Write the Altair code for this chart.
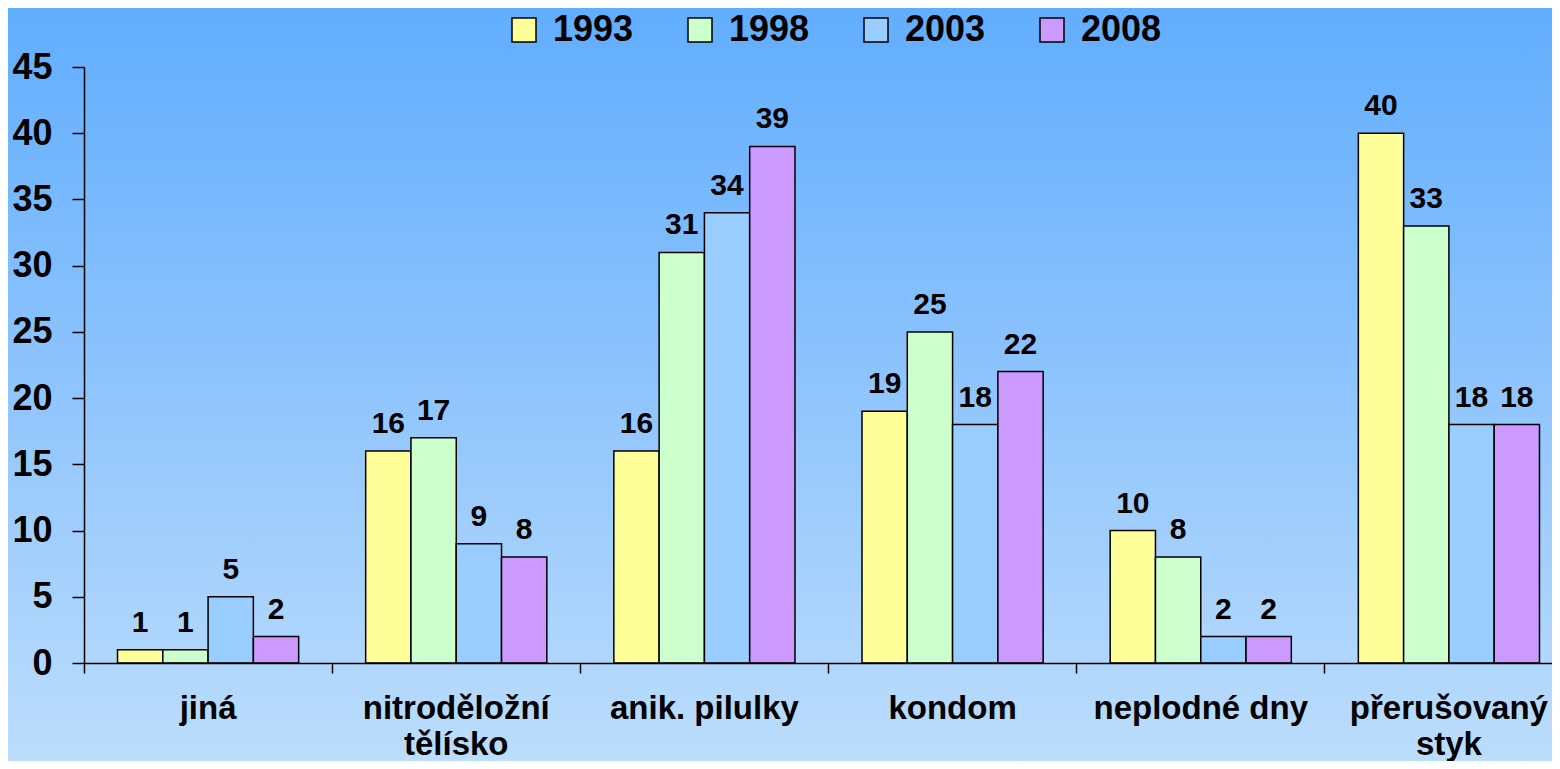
import altair as alt
import pandas as pd

categories = ["jiná", "nitroděložní\ntělísko", "anik. pilulky", "kondom",
              "neplodné dny", "přerušovaný\nstyk"]
years = ["1993", "1998", "2003", "2008"]
values = {
    "1993": [1, 16, 16, 19, 10, 40],
    "1998": [1, 17, 31, 25, 8, 33],
    "2003": [5, 9, 34, 18, 2, 18],
    "2008": [2, 8, 39, 22, 2, 18],
}
colors = ["#ffff99", "#ccffcc", "#99ccff", "#cc99ff"]

rows = []
for y in years:
    for c, v in zip(categories, values[y]):
        rows.append({"cat": c, "year": y, "value": v})
df = pd.DataFrame(rows)

W, H = 1468, 596
PL, PT, PR, PB = 76, 59, 0, 98
FONT = "Liberation Sans"

bg = alt.Chart(alt.Data(values=[{"k": 1}])).mark_rect(
    fill=alt.Gradient(
        gradient="linear",
        stops=[alt.GradientStop(color="#61adfe", offset=0),
               alt.GradientStop(color="#8fc4fd", offset=0.5),
               alt.GradientStop(color="#bcddfc", offset=1)],
        x1=0, x2=0, y1=0, y2=1,
    ),
    strokeWidth=0,
).encode(
    x=alt.value(-PL), x2=alt.value(W + 30),
    y=alt.value(-PT), y2=alt.value(H + PB),
)

xenc = alt.X("cat:N", sort=categories, title=None,
             scale=alt.Scale(paddingInner=0, paddingOuter=0, range=[0, 1489]),
             axis=alt.Axis(labelAngle=0, bandPosition=0, tickSize=10,
                           labelPadding=19, labelFontSize=33, labelLineHeight=36,
                           labelLimit=0,
                           labelExpr="split(datum.label, '\\n')",
                           labelBaseline="top", zindex=1))
xoff = alt.XOffset("year:N", sort=years,
                   scale=alt.Scale(paddingInner=0, paddingOuter=0.74))
yenc = alt.Y("value:Q", title=None,
             scale=alt.Scale(domain=[0, 45], nice=False),
             axis=alt.Axis(values=list(range(0, 50, 5)), tickSize=12,
                           labelPadding=20, labelFontSize=36, zindex=1,
                           grid=False))

bars = alt.Chart(df).mark_bar(stroke="black", strokeWidth=1.5, opacity=1).encode(
    x=xenc, xOffset=xoff, y=yenc,
    color=alt.Color("year:N", sort=years, title=None,
                    scale=alt.Scale(domain=years, range=colors),
                    legend=alt.Legend(orient="none", direction="horizontal",
                                      legendX=422, legendY=-55,
                                      symbolType="square", symbolSize=576,
                                      symbolStrokeColor="black",
                                      symbolStrokeWidth=1.5,
                                      labelFontSize=36, labelFont=FONT,
                                      labelFontWeight="bold", labelColor="black",
                                      labelOffset=11, columnPadding=48,
                                      labelLimit=0, padding=0, zindex=1)),
)

labels = alt.Chart(df).mark_text(
    dy=-18, baseline="alphabetic", fontSize=30, font=FONT,
    fontWeight="bold", color="black",
).encode(x=xenc, xOffset=xoff, y=yenc, text="value:Q")

chart = alt.layer(bg, bars, labels).properties(
    width=W, height=H,
    autosize=alt.AutoSizeParams(type="none"),
    padding={"left": PL, "top": PT, "right": PR, "bottom": PB},
).configure(background="#8fc4fd").configure_view(stroke=None).configure_axis(
    labelFont=FONT, labelFontWeight="bold", labelColor="black",
    domainColor="black", tickColor="black", domainWidth=1.5, tickWidth=1.5,
)

chart.save("out.html", embed_options={"renderer": "svg", "actions": False})
